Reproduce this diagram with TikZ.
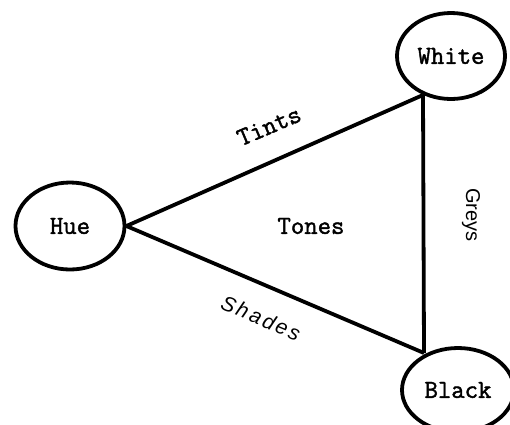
\documentclass[tikz,border=0pt]{standalone}
\usepackage{fontspec}
\usetikzlibrary{shapes.geometric}
\newfontfamily\sansfnt{Liberation Sans}
\newfontfamily\twfont[FakeBold=1.6]{Latin Modern Mono}
\newcommand\twf{\twfont\fontsize{26}{26}\selectfont}
\begin{document}
\begin{tikzpicture}[x=1pt,y=-1pt,
  colour/.style={ellipse,draw,line width=3.8pt,inner sep=0pt,minimum width=108pt,minimum height=86pt,font=\twf},
  edge/.style={line width=3.8pt},
  tw/.style={font=\twf,inner sep=0pt},
  sf/.style={font=\sansfnt\fontsize{20}{20}\selectfont,inner sep=0pt}]
\useasboundingbox (0,0) rectangle (510,424);
\begin{scope}
\clip (0,0) rectangle (510,424);
\node[colour] (White) at (451,56) {White};
\node[colour,minimum width=109pt,minimum height=87pt] (Hue) at (70,226) {Hue};
\node[colour,minimum width=112pt,minimum height=84pt] (Black) at (458,390) {Black};
\coordinate (wj) at (423,95);
\coordinate (bj) at (424,353);
\draw[edge] (Hue.east) -- (wj);
\draw[edge] (Hue.east) -- (bj);
\draw[edge] (wj) -- (bj);
\end{scope}
\node[tw,rotate=23] (tints) at (269,126) {Tints};
\node[tw] (tones) at (311,226) {Tones};
\node[sf,rotate=-23,font=\sansfnt\itshape\fontsize{21}{21}\selectfont\addfontfeature{LetterSpace=12}] (shades) at (261,318) {Shades};
\node[sf,rotate=-90] (greys) at (471,215) {Greys};
\end{tikzpicture}
\end{document}
